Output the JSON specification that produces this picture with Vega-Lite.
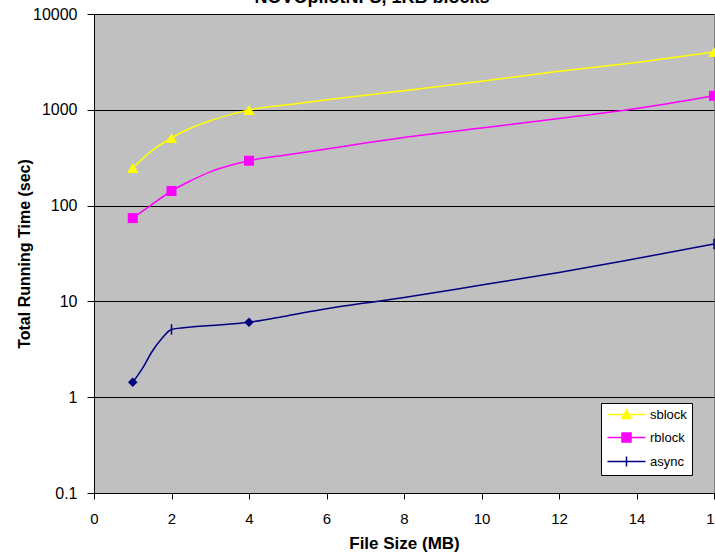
{
  "$schema": "https://vega.github.io/schema/vega-lite/v6.json",
  "width": 620,
  "height": 479,
  "autosize": "none",
  "padding": {"left": 94, "top": 14, "right": 1, "bottom": 67},
  "background": "white",
  "title": {"text": "NOVOpilotNFS, 1KB blocks", "fontSize": 18, "fontWeight": "bold", "font": "Liberation Sans", "anchor": "middle", "dx": -32, "offset": -15, "baseline": "alphabetic", "color": "black"},
  "config": {
    "font": "Liberation Sans",
    "view": {"fill": "#C0C0C0", "stroke": "#808080", "strokeWidth": 1},
    "axis": {"domainColor": "black", "tickColor": "black", "labelColor": "black", "titleColor": "black", "labelFontSize": 15, "titleFontSize": 16, "titleFontWeight": "bold", "domainWidth": 1, "tickWidth": 1},
    "legend": {"orient": "none", "legendX": 507, "legendY": 389, "fillColor": "white", "strokeColor": "black", "padding": 5, "labelFontSize": 13, "labelColor": "black", "symbolSize": 100, "labelOffset": 31, "rowPadding": 8, "symbolStrokeWidth": 1.5, "symbolOpacity": 1}
  },
  "data": {
    "values": [
      {"series": "sblock", "mb": 1, "t": 247},
      {"series": "sblock", "mb": 1.5, "t": 375},
      {"series": "sblock", "mb": 2, "t": 508},
      {"series": "sblock", "mb": 2.5, "t": 645},
      {"series": "sblock", "mb": 3, "t": 770},
      {"series": "sblock", "mb": 3.5, "t": 885},
      {"series": "sblock", "mb": 4, "t": 995},
      {"series": "sblock", "mb": 5, "t": 1130},
      {"series": "sblock", "mb": 6, "t": 1270},
      {"series": "sblock", "mb": 7, "t": 1420},
      {"series": "sblock", "mb": 8, "t": 1580},
      {"series": "sblock", "mb": 10, "t": 1990},
      {"series": "sblock", "mb": 12, "t": 2520},
      {"series": "sblock", "mb": 14, "t": 3120},
      {"series": "sblock", "mb": 16, "t": 4000},
      {"series": "rblock", "mb": 1, "t": 74},
      {"series": "rblock", "mb": 1.5, "t": 103},
      {"series": "rblock", "mb": 2, "t": 142},
      {"series": "rblock", "mb": 2.5, "t": 182},
      {"series": "rblock", "mb": 3, "t": 225},
      {"series": "rblock", "mb": 3.5, "t": 262},
      {"series": "rblock", "mb": 4, "t": 294},
      {"series": "rblock", "mb": 5, "t": 340},
      {"series": "rblock", "mb": 6, "t": 390},
      {"series": "rblock", "mb": 7, "t": 450},
      {"series": "rblock", "mb": 8, "t": 515},
      {"series": "rblock", "mb": 10, "t": 645},
      {"series": "rblock", "mb": 12, "t": 810},
      {"series": "rblock", "mb": 14, "t": 1030},
      {"series": "rblock", "mb": 16, "t": 1400},
      {"series": "async", "mb": 1, "t": 1.43},
      {"series": "async", "mb": 1.25, "t": 2.0},
      {"series": "async", "mb": 1.5, "t": 3.0},
      {"series": "async", "mb": 1.75, "t": 4.1},
      {"series": "async", "mb": 2, "t": 5.1},
      {"series": "async", "mb": 2.5, "t": 5.4},
      {"series": "async", "mb": 3, "t": 5.6},
      {"series": "async", "mb": 4, "t": 6.05},
      {"series": "async", "mb": 5, "t": 7.1},
      {"series": "async", "mb": 6, "t": 8.4},
      {"series": "async", "mb": 7, "t": 9.6},
      {"series": "async", "mb": 8, "t": 11.0},
      {"series": "async", "mb": 10, "t": 14.8},
      {"series": "async", "mb": 12, "t": 20.0},
      {"series": "async", "mb": 14, "t": 28},
      {"series": "async", "mb": 16, "t": 39.7}
    ]
  },
  "encoding": {
    "x": {"field": "mb", "type": "quantitative", "scale": {"domain": [0, 16], "nice": false},
      "axis": {"title": "File Size (MB)", "values": [0, 2, 4, 6, 8, 10, 12, 14, 16], "grid": false, "tickSize": 6, "labelPadding": 12, "titlePadding": 9, "titleFontSize": 17, "labelFlush": false}},
    "y": {"field": "t", "type": "quantitative", "scale": {"type": "log", "domain": [0.1, 10000], "nice": false},
      "axis": {"title": "Total Running Time (sec)", "values": [0.1, 1, 10, 100, 1000, 10000], "format": "~g", "grid": true, "gridColor": "black", "gridOpacity": 1, "tickSize": 7, "labelPadding": 10, "titleX": -70, "titleBaseline": "middle", "labelFontSize": 16}}
  },
  "layer": [
    {
      "mark": {"type": "line", "interpolate": "monotone", "strokeWidth": 1.5},
      "encoding": {"color": {"field": "series", "type": "nominal", "scale": {"domain": ["sblock", "rblock", "async"], "range": ["#FFFF00", "#FF00FF", "#000080"]}, "legend": {"title": null}}}
    },
    {
      "transform": [{"filter": "datum.series === 'sblock' && indexof([1,2,4,16], datum.mb) >= 0"}],
      "mark": {"type": "point", "shape": "triangle-up", "filled": true, "size": 130, "color": "#FFFF00", "opacity": 1}
    },
    {
      "transform": [{"filter": "datum.series === 'rblock' && indexof([1,2,4,16], datum.mb) >= 0"}],
      "mark": {"type": "point", "shape": "square", "filled": true, "size": 100, "color": "#FF00FF", "opacity": 1}
    },
    {
      "transform": [{"filter": "datum.series === 'async' && indexof([1,4], datum.mb) >= 0"}],
      "mark": {"type": "point", "shape": "diamond", "filled": true, "size": 90, "color": "#000080", "opacity": 1}
    },
    {
      "transform": [{"filter": "datum.series === 'async' && indexof([2,16], datum.mb) >= 0"}],
      "mark": {"type": "point", "shape": "M0,-1V1", "filled": false, "size": 110, "strokeWidth": 1.5, "color": "#000080", "opacity": 1}
    },
    {
      "transform": [{"filter": "datum.mb === 1"}],
      "mark": {"type": "point", "filled": true, "opacity": 0},
      "encoding": {
        "color": {"field": "series", "type": "nominal", "legend": {"title": null}},
        "shape": {"field": "series", "type": "nominal", "scale": {"domain": ["sblock", "rblock", "async"], "range": ["M-1,0H6.6M2.8,-0.9L3.7,0.8H1.9Z", "M-1,0H6.6M1.9,-0.9H3.7V0.9H1.9Z", "M-1,0H6.6M2.8,-1V1"]},
          "legend": {"title": null, "encode": {"symbols": {"update": {"stroke": {"scale": "color", "field": "value"}, "fill": {"scale": "color", "field": "value"}, "opacity": {"value": 1}}}}}}
      }
    }
  ]
}
